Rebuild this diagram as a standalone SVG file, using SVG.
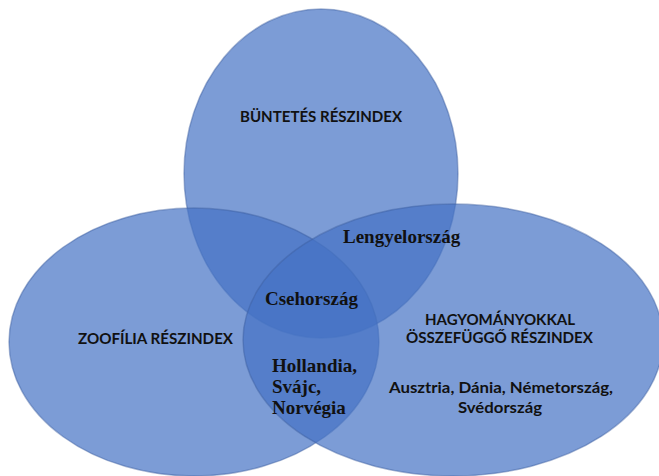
<svg xmlns="http://www.w3.org/2000/svg" width="659" height="476" viewBox="0 0 659 476">
  <defs>
    <style>
      .set { fill: #4472c4; fill-opacity: 0.7; stroke: #3f5f9f; stroke-opacity: 0.45; stroke-width: 1.5; }
      .lbl { font-family: Lato, "Liberation Sans", Arial, sans-serif; font-weight: bold; font-size: 15.5px; fill: #111; text-anchor: middle; }
      .cty { font-family: "Liberation Serif", "Times New Roman", serif; font-weight: bold; font-size: 19px; fill: #111; }
    </style>
  </defs>
  <rect width="659" height="476" fill="#ffffff"/>
  <g id="set-buntetes">
    <ellipse class="set" cx="321" cy="173.5" rx="137" ry="164.5"/>
  </g>
  <g id="set-zoofilia">
    <ellipse class="set" cx="194" cy="342" rx="185" ry="134"/>
  </g>
  <g id="set-hagyomany">
    <ellipse class="set" cx="453" cy="340" rx="210" ry="136"/>
  </g>
  <g id="connectors"/>
  <g id="labels">
    <text class="lbl" x="321" y="122" textLength="162" lengthAdjust="spacingAndGlyphs">BÜNTETÉS RÉSZINDEX</text>
    <text class="lbl" x="155.5" y="344" textLength="155" lengthAdjust="spacingAndGlyphs">ZOOFÍLIA RÉSZINDEX</text>
    <text class="lbl" x="500" y="325" textLength="150" lengthAdjust="spacingAndGlyphs">HAGYOMÁNYOKKAL</text>
    <text class="lbl" x="499.5" y="343" textLength="187" lengthAdjust="spacingAndGlyphs">ÖSSZEFÜGGŐ RÉSZINDEX</text>
    <text class="lbl" x="501" y="393" textLength="224" lengthAdjust="spacingAndGlyphs">Ausztria, Dánia, Németország,</text>
    <text class="lbl" x="500" y="413" textLength="84" lengthAdjust="spacingAndGlyphs">Svédország</text>
  </g>
  <g id="countries">
    <text class="cty" x="343" y="243">Lengyelország</text>
    <text class="cty" x="265" y="305">Csehország</text>
    <text class="cty" x="272" y="372">Hollandia,</text>
    <text class="cty" x="272" y="393">Svájc,</text>
    <text class="cty" x="272" y="414">Norvégia</text>
  </g>
</svg>
